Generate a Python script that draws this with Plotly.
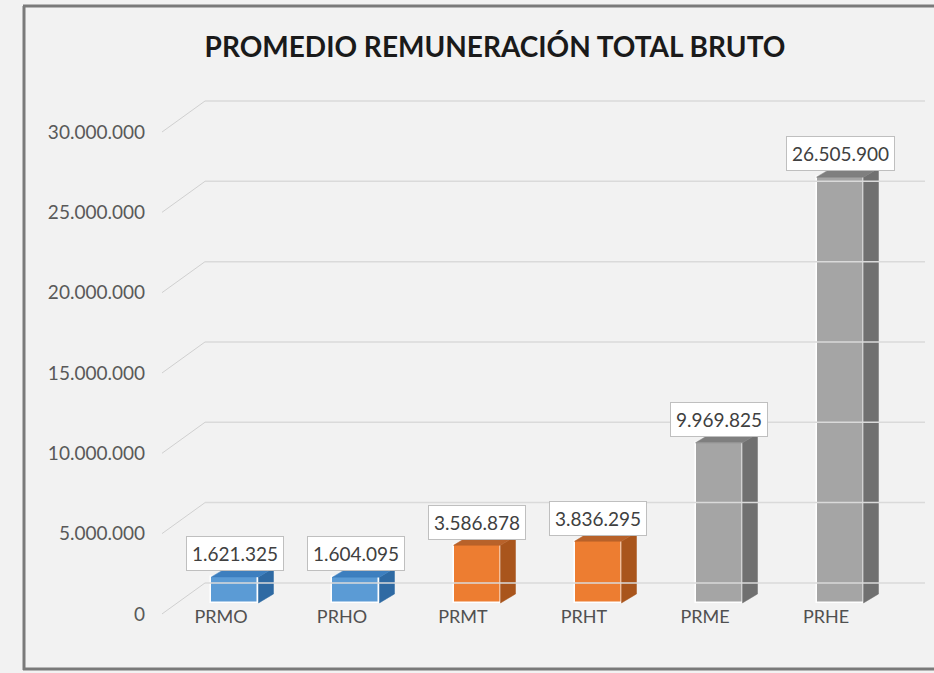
import plotly.graph_objects as go

# ---- data ----
categories = ["PRMO", "PRHO", "PRMT", "PRHT", "PRME", "PRHE"]
values = [1621325, 1604095, 3586878, 3836295, 9969825, 26505900]
y_ticks = [0, 5000000, 10000000, 15000000, 20000000, 25000000, 30000000]

front_colors = ["#5b9bd5", "#5b9bd5", "#ed7d31", "#ed7d31", "#a5a5a5", "#a5a5a5"]
side_colors = ["#2f6aa3", "#2f6aa3", "#a9551c", "#a9551c", "#707070", "#707070"]
top_colors = ["#3d7fbf", "#3d7fbf", "#b8622a", "#b8622a", "#7f7f7f", "#7f7f7f"]

def fmt(v):
    return f"{v:,}".replace(",", ".")

# ---- layout constants (pixels -> data) ----
W, H = 934, 673
ML, MR, MT, MB = 160, 9, 92, 43
XR = [-0.504, 5.818]
YR = [-1.0e6, 32.49e6]
pw = W - ML - MR
ph = H - MT - MB
px_per_x = pw / (XR[1] - XR[0])
px_per_y = ph / (YR[1] - YR[0])

bar_shift = 14 / px_per_x        # bars set back from the labels
bar_w = 47 / px_per_x
base = 11 / px_per_y             # floor depth of bars
side_dx = 15 / px_per_x
side_dy = 9 / px_per_y
wall_dx0 = (162 - ML) / px_per_x + XR[0]
wall_dx1 = (205 - ML) / px_per_x + XR[0]
wall_dy = 31 / px_per_y
grid_end = (926 - ML) / px_per_x + XR[0]

xs = [i + bar_shift for i in range(len(categories))]

fig = go.Figure()

# back-wall gridlines with perspective diagonals
shapes = []
for v in y_ticks:
    shapes.append(dict(type="line", xref="x", yref="y", x0=wall_dx0, y0=v,
                       x1=wall_dx1, y1=v + wall_dy,
                       line=dict(color="#d0d0d0", width=1)))
    shapes.append(dict(type="line", xref="x", yref="y", x0=wall_dx1, y0=v + wall_dy,
                       x1=grid_end, y1=v + wall_dy,
                       line=dict(color="#dadada", width=1.5)))

# side and top faces
for x, v, sc, tc in zip(xs, values, side_colors, top_colors):
    xr = x + bar_w / 2
    xl = x - bar_w / 2
    top = base + v
    fig.add_trace(go.Scatter(
        x=[xr, xr + side_dx, xr + side_dx, xr, xr],
        y=[base, base + side_dy, top + side_dy, top, base],
        fill="toself", fillcolor=sc, mode="lines",
        line=dict(color=sc, width=0.5), hoverinfo="skip", showlegend=False))
    fig.add_trace(go.Scatter(
        x=[xl, xl + side_dx, xr + side_dx, xr, xl],
        y=[top, top + side_dy, top + side_dy, top, top],
        fill="toself", fillcolor=tc, mode="lines",
        line=dict(color=tc, width=0.5), hoverinfo="skip", showlegend=False))

# front faces
fig.add_trace(go.Bar(
    x=xs, y=values, base=[base] * len(values), width=bar_w,
    marker=dict(color=front_colors, line=dict(color="#ffffff", width=1.5)),
    showlegend=False, hoverinfo="skip"))

# data labels
annotations = []
for x, v in zip(xs, values):
    annotations.append(dict(
        x=x, y=base + v + side_dy * 0.3, xref="x", yref="y", text=fmt(v),
        showarrow=False, yanchor="bottom", yshift=3,
        font=dict(family="Lato", size=19, color="#404040"),
        bgcolor="#ffffff", bordercolor="#bfbfbf", borderwidth=1, borderpad=5))

# frame
def xp(px):
    return (px - ML) / pw
def yp(py):
    return (H - MB - py) / ph

frame_col = "#7a7a7a"
shapes.append(dict(type="line", xref="paper", yref="paper", x0=xp(24), y0=yp(6),
                   x1=xp(24), y1=yp(670), line=dict(color=frame_col, width=3)))
shapes.append(dict(type="line", xref="paper", yref="paper", x0=xp(23), y0=yp(6),
                   x1=xp(940), y1=yp(6), line=dict(color=frame_col, width=3)))
shapes.append(dict(type="line", xref="paper", yref="paper", x0=xp(23), y0=yp(669),
                   x1=xp(940), y1=yp(669), line=dict(color=frame_col, width=3)))

fig.update_layout(
    width=W, height=H,
    margin=dict(l=ML, r=MR, t=MT, b=MB),
    paper_bgcolor="#f2f2f2", plot_bgcolor="#f2f2f2",
    title=dict(text="<b>PROMEDIO REMUNERACIÓN TOTAL BRUTO</b>",
               x=495 / W, xanchor="center", y=1 - 47 / H, yanchor="middle",
               font=dict(family="Lato", size=28, color="#1a1a1a")),
    xaxis=dict(range=XR, tickvals=list(range(len(categories))), ticktext=categories,
               showgrid=False, zeroline=False, showline=False, ticks="",
               anchor="free", position=(H - MB - 604) / ph,
               tickfont=dict(family="Lato", size=18, color="#505050")),
    yaxis=dict(range=YR, tickvals=y_ticks, ticktext=[fmt(v) for v in y_ticks],
               showgrid=False, zeroline=False, showline=False, ticks="",
               ticklabelstandoff=14,
               tickfont=dict(family="Lato", size=19, color="#595959")),
    shapes=shapes, annotations=annotations,
    bargap=0,
)

fig.write_html(
    "out.html",
    config={"displayModeBar": False},
    post_script="document.body.style.margin='0';document.body.style.background='#f2f2f2';",
)
